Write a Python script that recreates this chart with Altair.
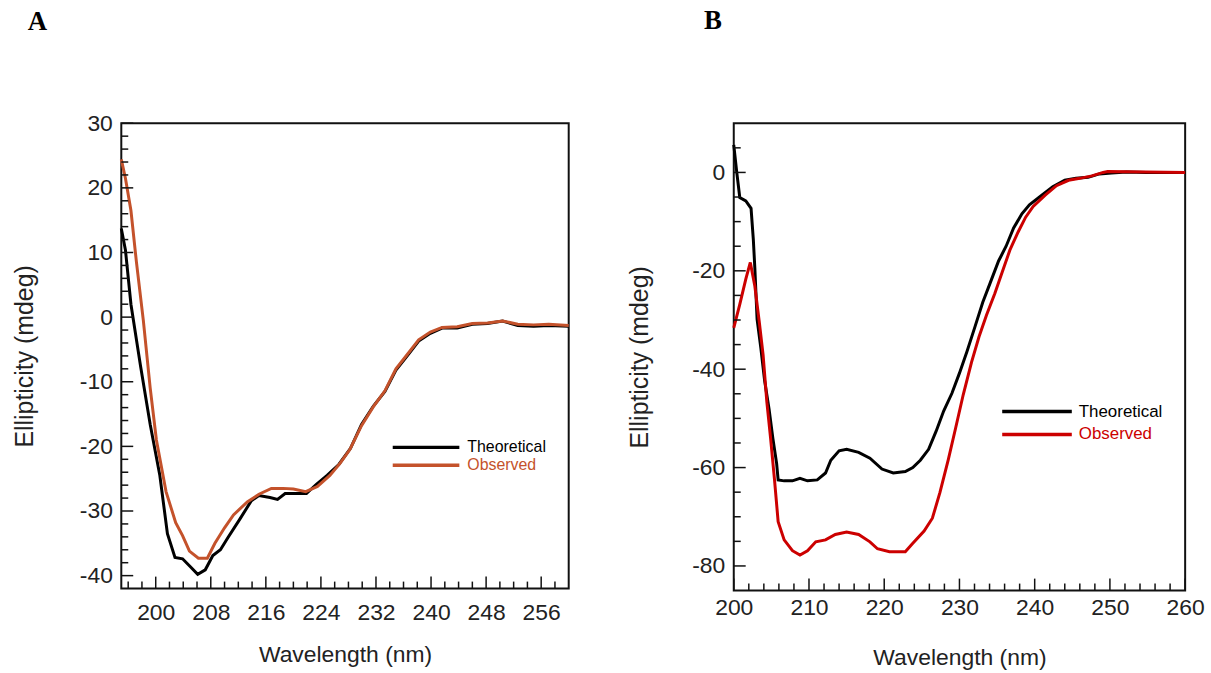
import altair as alt
import pandas as pd

# ---------------- Panel A data ----------------
a_wl_theo = [195, 195.6, 196.4, 197.8, 199.2, 200.6, 201.7, 202.8, 203.9, 205.0, 206.1, 207.2,
             208.3, 209.4, 210.5, 212.2, 213.9, 215.0, 216.6, 217.7, 218.8, 220.5, 221.9, 223.3,
             224.9, 226.6, 228.3, 229.9, 231.6, 233.3, 234.9, 236.6, 238.2, 239.9, 241.6, 243.8,
             246.0, 248.2, 250.4, 252.6, 254.9, 257.1, 260]
a_theo = [13.7, 10.4, 2.0, -7.6, -16.6, -24.5, -33.5, -37.2, -37.4, -38.6, -39.8, -39.1,
          -36.9, -36.0, -34.1, -31.3, -28.4, -27.6, -27.9, -28.2, -27.3, -27.3, -27.3, -25.9,
          -24.5, -22.8, -20.3, -16.6, -13.8, -11.5, -8.2, -5.9, -3.7, -2.5, -1.7, -1.7,
          -1.1, -1.0, -0.6, -1.3, -1.4, -1.3, -1.4]
a_wl_obs = [195, 195.6, 196.4, 197.2, 198.2, 199.2, 200.1, 201.5, 202.9, 203.9, 204.9, 206.2,
            207.5, 208.6, 210.0, 211.3, 213.3, 215.0, 216.8, 218.5, 220.0, 221.8, 223.5, 225.3,
            226.8, 228.2, 229.9, 231.6, 233.3, 234.9, 236.6, 238.2, 239.9, 241.6, 243.8, 246.0,
            248.2, 250.4, 252.6, 254.9, 257.1, 260]
a_obs = [24.4, 21.5, 16.5, 8.5, -0.5, -11.0, -19.0, -27.0, -31.8, -33.8, -36.2, -37.3,
         -37.3, -35.0, -32.6, -30.6, -28.6, -27.4, -26.5, -26.5, -26.6, -27.0, -26.2, -24.5,
         -22.6, -20.5, -16.8, -13.9, -11.4, -8.0, -5.7, -3.5, -2.3, -1.6, -1.5, -1.0,
         -0.9, -0.6, -1.1, -1.2, -1.1, -1.3]

a_x_major = [200, 208, 216, 224, 232, 240, 248, 256]
a_x_minor = [196, 198, 202, 204, 206, 210, 212, 214, 218, 220, 222, 226, 228, 230, 234, 236,
             238, 242, 244, 246, 250, 252, 254, 258]
a_y_major = [-40, -30, -20, -10, 0, 10, 20, 30]
a_y_minor = [-38, -36, -34, -32, -28, -26, -24, -22, -18, -16, -14, -12, -8, -6, -4, -2,
             2, 4, 6, 8, 12, 14, 16, 18, 22, 24, 26, 28]

# ---------------- Panel B data ----------------
b_wl_theo = [200.0, 200.4, 200.8, 201.6, 202.3, 202.6, 202.8, 203.1, 203.6, 204.1, 204.7, 205.2,
             205.7, 205.9, 206.7, 207.8, 208.8, 209.8, 211.1, 212.2, 212.9, 214.0, 215.0, 216.6,
             218.1, 219.7, 221.2, 222.8, 223.8, 224.8, 225.9, 226.9, 227.9, 229.0, 230.0, 231.0,
             232.1, 233.1, 234.1, 235.2, 236.2, 237.2, 238.3, 239.3, 240.9, 242.4, 244.0, 245.5,
             247.1, 248.6, 250.2, 252.2, 254.8, 260.0]
b_theo = [5.6, 0.0, -5.1, -5.8, -7.3, -13.6, -19.4, -29.8, -35.7, -42.3, -48.2, -54.1,
          -59.2, -62.5, -62.7, -62.7, -62.2, -62.7, -62.5, -61.1, -58.5, -56.6, -56.3, -56.9,
          -58.1, -60.3, -61.1, -60.8, -60.0, -58.5, -56.3, -52.6, -48.5, -44.9, -40.8, -36.4,
          -31.2, -26.4, -22.4, -18.0, -15.0, -11.3, -8.4, -6.6, -4.7, -2.9, -1.6, -1.2,
          -1.0, -0.3, -0.1, 0.1, 0.0, 0.0]
b_wl_obs = [200.0, 200.8, 201.6, 202.2, 202.8, 203.4, 203.9, 204.4, 204.9, 205.4, 205.9, 206.7,
            207.8, 208.8, 209.8, 210.9, 212.2, 213.5, 215.0, 216.6, 218.1, 219.1, 220.7, 222.8,
            223.8, 225.3, 226.4, 227.4, 228.5, 229.5, 230.5, 231.6, 232.6, 233.6, 234.7, 235.7,
            236.7, 237.8, 238.8, 239.8, 241.4, 242.9, 244.5, 246.0, 247.6, 249.1, 249.7, 254.8,
            260.0]
b_obs = [-31.6, -26.8, -21.7, -18.3, -23.1, -30.5, -37.1, -46.7, -54.1, -62.2, -71.0, -74.7,
         -76.9, -77.8, -76.9, -75.1, -74.7, -73.6, -73.1, -73.6, -75.1, -76.5, -77.1, -77.1,
         -75.4, -72.9, -70.3, -65.1, -58.5, -51.9, -45.2, -38.6, -33.4, -29.0, -24.6, -20.2,
         -15.8, -12.1, -9.1, -6.9, -4.6, -2.7, -1.6, -1.2, -0.7, 0.0, 0.2, 0.1,
         0.0]

b_x_major = [200, 210, 220, 230, 240, 250, 260]
b_x_minor = [202, 204, 206, 208, 212, 214, 216, 218, 222, 224, 226, 228, 232, 234, 236, 238,
             242, 244, 246, 248, 252, 254, 256, 258]
b_y_major = [-80, -60, -40, -20, 0]
b_y_minor = [-75, -70, -65, -55, -50, -45, -35, -30, -25, -15, -10, -5, 5]

series_names = ["Theoretical", "Observed"]

FONT = "Liberation Sans"
TXT = "#222222"


def panel(letter, wl_t, v_t, wl_o, v_o, xdom, ydom, xmaj, xmin, ymaj, ymin,
          W, H, obs_color, x_label_pad, y_title_x, x_title_y, letter_dx, letter_offset,
          leg_x1, leg_x2, leg_y1, leg_y2, leg_tx, leg_fs, leg_sw):
    xs = alt.Scale(domain=xdom, nice=False, zero=False)
    ys = alt.Scale(domain=ydom, nice=False, zero=False)
    xaxis = alt.Axis(values=xmaj, ticks=False, domain=False, grid=False,
                     labelFont=FONT, labelFontSize=23, labelColor=TXT,
                     labelPadding=x_label_pad, labelExpr="'' + datum.value",
                     titleFont=FONT, titleFontSize=23, titleFontWeight="normal",
                     titleColor=TXT, titleY=x_title_y, titleBaseline="middle",
                     labelFlush=False)
    yaxis = alt.Axis(values=ymaj, ticks=False, domain=False, grid=False,
                     labelFont=FONT, labelFontSize=23, labelColor=TXT,
                     labelPadding=9, labelExpr="'' + datum.value",
                     titleFont=FONT, titleFontSize=25, titleFontWeight="normal",
                     titleColor=TXT, titleX=y_title_x, titleY=H / 2,
                     titleBaseline="middle", titleAlign="center", labelFlush=False)

    df_t = pd.DataFrame({"wl": wl_t, "v": v_t})
    df_o = pd.DataFrame({"wl": wl_o, "v": v_o})

    line_t = alt.Chart(df_t).mark_line(color="#000000", strokeWidth=3).encode(
        x=alt.X("wl:Q", scale=xs, axis=xaxis, title="Wavelength (nm)"),
        y=alt.Y("v:Q", scale=ys, axis=yaxis, title="Ellipticity (mdeg)"),
    )
    line_o = alt.Chart(df_o).mark_line(color=obs_color, strokeWidth=3).encode(
        x=alt.X("wl:Q", scale=xs),
        y=alt.Y("v:Q", scale=ys),
    )

    def xt(vals, L):
        return alt.Chart(pd.DataFrame({"wl": vals})).mark_rule(color="#111", strokeWidth=1.5).encode(
            x=alt.X("wl:Q", scale=xs), y=alt.value(H), y2=alt.value(H - L))

    def yt(vals, L):
        return alt.Chart(pd.DataFrame({"v": vals})).mark_rule(color="#111", strokeWidth=1.5).encode(
            y=alt.Y("v:Q", scale=ys), x=alt.value(0), x2=alt.value(L))

    one = pd.DataFrame({"k": [0]})
    leg = []
    for name, col, ly in [(series_names[0], "#000000", leg_y1), (series_names[1], obs_color, leg_y2)]:
        leg.append(alt.Chart(one).mark_rule(color=col, strokeWidth=leg_sw).encode(
            x=alt.value(leg_x1), x2=alt.value(leg_x2), y=alt.value(ly)))
        leg.append(alt.Chart(one).mark_text(align="left", baseline="middle", font=FONT,
                                            fontSize=leg_fs, color=col).encode(
            x=alt.value(leg_tx), y=alt.value(ly), text=alt.value(name)))

    ch = alt.layer(line_t, line_o, xt(xmin, 7), xt(xmaj, 12), yt(ymin, 7), yt(ymaj, 12),
                   *leg).properties(
        width=W, height=H,
        title=alt.TitleParams(letter, anchor="start", frame="group", dx=letter_dx,
                              offset=letter_offset, font="Liberation Serif", fontSize=27,
                              fontWeight="bold", color="#000"))
    return ch


A = panel("A", a_wl_theo, a_theo, a_wl_obs, a_obs, [195, 260], [-42, 30],
          a_x_major, a_x_minor, a_y_major, a_y_minor, 450, 468, "#c4522b",
          13, -97, 66, -94, 77,
          273, 340, 326, 344, 348, 16, 3.5)
B = panel("B", b_wl_theo, b_theo, b_wl_obs, b_obs, [200, 260], [-85, 10],
          b_x_major, b_x_minor, b_y_major, b_y_minor, 454, 470, "#cc0000",
          6, -95, 67, -30, 89,
          270, 340, 290, 313, 347, 17, 3.5)

chart = alt.hconcat(A, B, spacing=51).properties(
    padding={"left": 12, "top": 4, "right": 5, "bottom": 5},
    background="white",
).configure_view(stroke="#111111", strokeWidth=2)

chart.save("out.html", embed_options={"renderer": "svg", "actions": False})
